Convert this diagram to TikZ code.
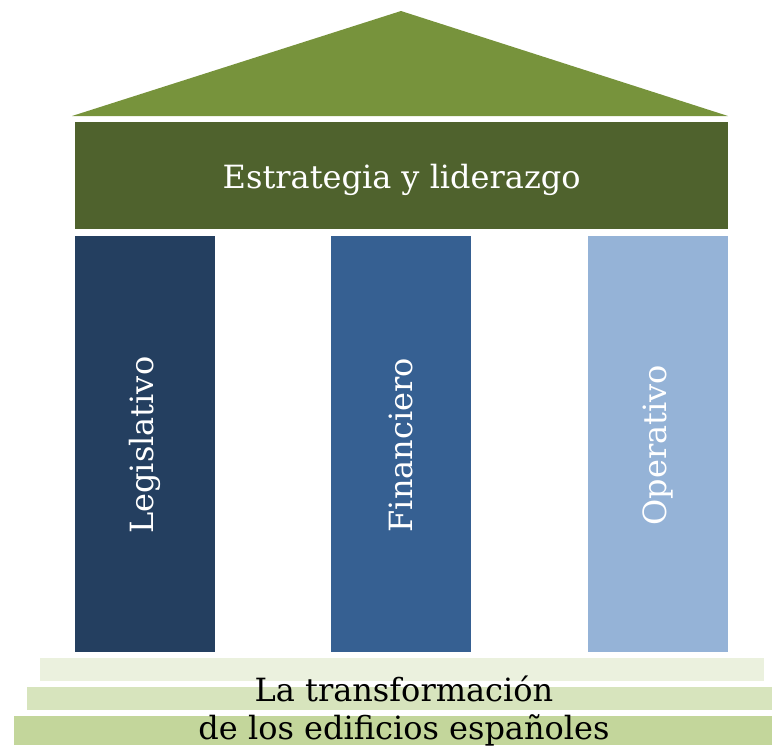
\documentclass[tikz,border=0pt]{standalone}
\usepackage{fontspec}
\setmainfont{DejaVu Serif}
\definecolor{roofc}{HTML}{77933C}
\definecolor{bannerc}{HTML}{4F622D}
\definecolor{colA}{HTML}{243F60}
\definecolor{colB}{HTML}{366092}
\definecolor{colC}{HTML}{95B3D7}
\definecolor{stepA}{HTML}{EBF1DE}
\definecolor{stepB}{HTML}{D7E4BD}
\definecolor{stepC}{HTML}{C3D69B}
\begin{document}
\begin{tikzpicture}[x=1pt,y=-1pt,
  pillar/.style={rectangle,inner sep=0pt,minimum width=140pt,minimum height=416pt,anchor=north west},
  pillartext/.style={text=white,font=\fontsize{32}{36}\selectfont,rotate=90},
  stepbar/.style={rectangle,inner sep=0pt,anchor=north west}]
\useasboundingbox (0,0) rectangle (772,748);
\fill[roofc] (401,11) coordinate (apex) -- (728,116) -- (72,116) -- cycle;
\node[rectangle,fill=bannerc,inner sep=0pt,minimum width=653pt,minimum height=107pt,anchor=north west] (banner) at (75,122) {};
\node[text=white,font=\fontsize{32}{36}\selectfont] (bannertext) at ([yshift=-4pt]banner.center) {Estrategia y liderazgo};
\node[pillar,fill=colA] (p1) at (75,236) {};
\node[pillar,fill=colB] (p2) at (331,236) {};
\node[pillar,fill=colC] (p3) at (588,236) {};
\node[pillartext] (t1) at ([yshift=-1pt]p1.center) {Legislativo};
\node[pillartext] (t2) at ([yshift=-1pt]p2.center) {Financiero};
\node[pillartext] (t3) at ([yshift=-1pt]p3.center) {Operativo};
\node[stepbar,fill=stepA,minimum width=724pt,minimum height=23pt] (s1) at (40,658) {};
\node[stepbar,fill=stepB,minimum width=745pt,minimum height=23pt] (s2) at (27,687) {};
\node[stepbar,fill=stepC,minimum width=758pt,minimum height=29pt] (s3) at (14,716) {};
\node[font=\fontsize{32}{36}\selectfont,text=black,inner sep=0pt] (b1) at (404,689) {La transformación};
\node[font=\fontsize{32}{36}\selectfont,text=black,inner sep=0pt] (b2) at (404,730) {de los edificios españoles};
\end{tikzpicture}
\end{document}
